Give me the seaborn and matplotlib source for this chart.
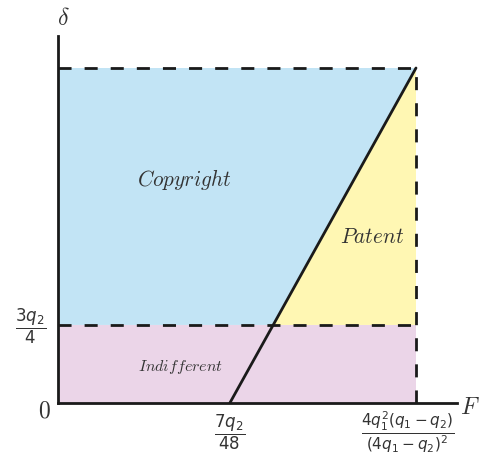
import numpy as np
import pandas as pd
import matplotlib.pyplot as plt
import seaborn as sns

# thresholds (arbitrary units)
F_low = 0.48        # 7 q2 / 48
F_max = 1.0         # 4 q1^2 (q1 - q2) / (4 q1 - q2)^2
delta_low = 0.233   # 3 q2 / 4
delta_max = 1.0

regions = ['Copyright', 'Patent', 'Indifferent']
region_colors = ['#c2e4f5', '#fff7b3', '#ebd5e8']
x_tick_labels = [r'$\dfrac{7q_2}{48}$', r'$\dfrac{4q_1^2(q_1-q_2)}{(4q_1-q_2)^2}$']
y_tick_label = r'$\dfrac{3q_2}{4}$'

sns.set_style('white')
plt.rcParams['mathtext.fontset'] = 'cm'

fig = plt.figure(figsize=(4.83, 4.60), dpi=100)
ax = fig.add_axes([58 / 483, 56 / 460, 399 / 483, 367 / 460])

# where the boundary line crosses delta_low
F_cross = F_low + (F_max - F_low) * delta_low / delta_max

colors = dict(zip(regions, region_colors))
ax.fill([0, 0, F_max, F_cross], [delta_low, delta_max, delta_max, delta_low],
        color=colors['Copyright'], lw=0)
ax.fill([F_cross, F_max, F_max], [delta_low, delta_max, delta_low],
        color=colors['Patent'], lw=0)
ax.fill([0, 0, F_max, F_max], [0, delta_low, delta_low, 0],
        color=colors['Indifferent'], lw=0)

dash = (4.7, 4.7)
for xs, ys in [([0, F_max], [delta_max, delta_max]),
               ([0, F_max], [delta_low, delta_low]),
               ([F_max, F_max], [0, delta_max])]:
    sns.lineplot(x=xs, y=ys, ax=ax, color='#1a1a1a', lw=2.0, estimator=None,
                 sort=False, linestyle=(0, dash))
sns.lineplot(x=[F_low, F_max], y=[0, delta_max], ax=ax, color='#1a1a1a', lw=2.0,
             estimator=None, sort=False)

ax.set_xlim(0, 399 / 358)
ax.set_ylim(0, 367 / 335)
for s in ['top', 'right']:
    ax.spines[s].set_visible(False)
for s in ['left', 'bottom']:
    ax.spines[s].set_color('#1a1a1a')
    ax.spines[s].set_linewidth(2.0)
ax.set_xticks([])
ax.set_yticks([])

# region labels
ax.text(0.352, 0.669, r'$\mathit{Copyright}$', fontsize=15.3,
        ha='center', va='center', color='#333333')
ax.text(0.877, 0.4985, r'$\mathit{Patent}$', fontsize=15.3,
        ha='center', va='center', color='#333333')
ax.text(0.341, 0.110, r'$\mathit{Indifferent}$', fontsize=11.5,
        ha='center', va='center', color='#333333')

# axis labels and tick labels
kw = dict(ha='center', va='center', clip_on=False, color='#333333')
frac_kw = dict(kw, math_fontfamily='dejavusans')
ax.text(-0.078, delta_low, y_tick_label, fontsize=12, **frac_kw)
ax.text(F_low, -0.084, x_tick_labels[0], fontsize=12, **frac_kw)
ax.text(0.978, -0.084, x_tick_labels[1], fontsize=11, **frac_kw)
ax.text(-0.039, -0.018, r'$0$', fontsize=17, **kw)
ax.text(1.151, -0.009, r'$F$', fontsize=17, **kw)
ax.text(0.014, 1.152, r'$\delta$', fontsize=17, **kw)

fig.savefig('out.png', dpi=100)
